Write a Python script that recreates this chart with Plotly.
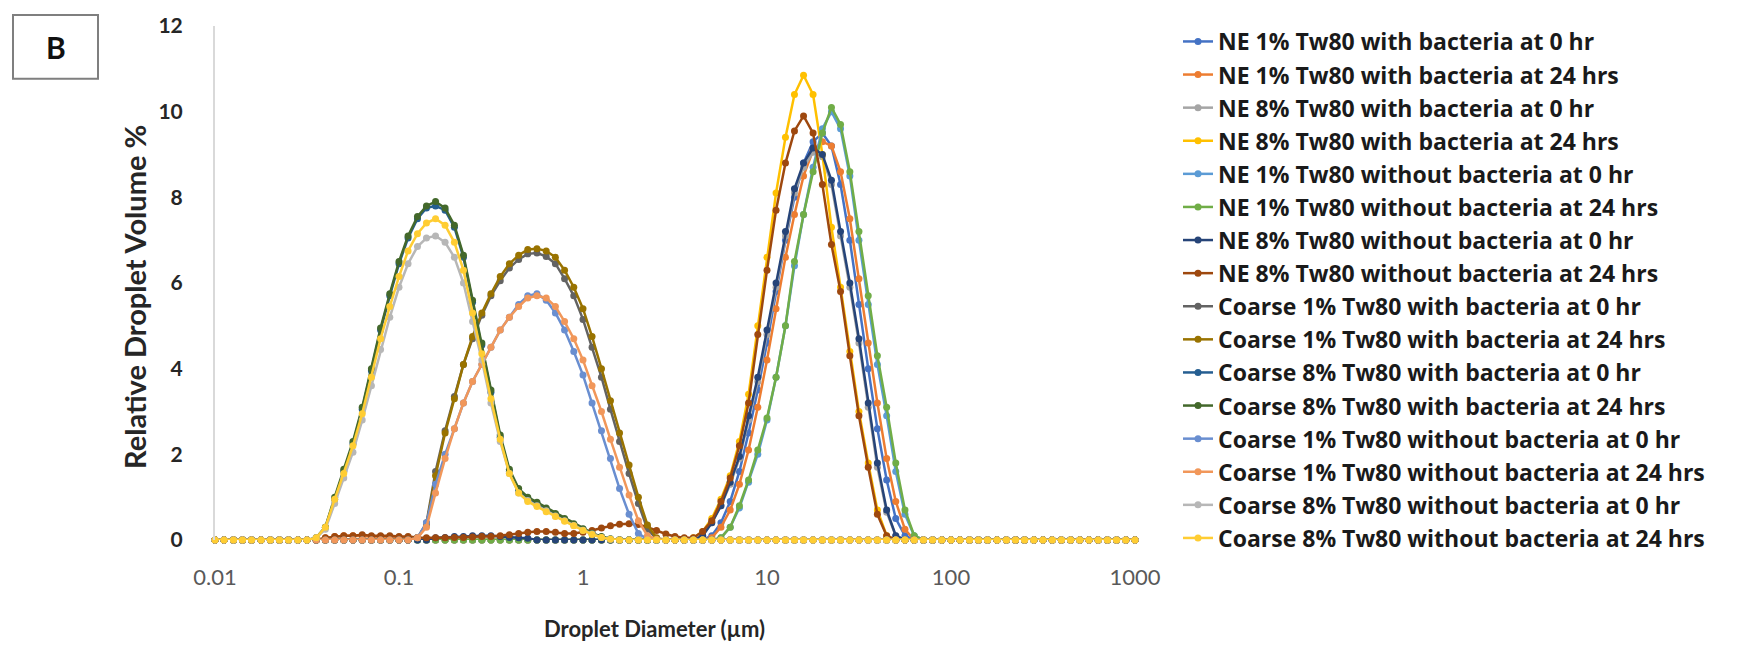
import plotly.graph_objects as go

# ---------------- data ----------------
# instrument size classes (µm): 20 per decade from 0.01 to 1000
class_mantissa = [1.00, 1.12, 1.26, 1.41, 1.58, 1.78, 2.00, 2.24, 2.51, 2.82,
                  3.16, 3.55, 3.98, 4.47, 5.01, 5.62, 6.31, 7.08, 7.94, 8.91]
class_decades = [0.01, 0.1, 1, 10, 100]
diameters = [round(m * d, 5) for d in class_decades for m in class_mantissa] + [1000.0]

series_names = [
    "NE 1% Tw80 with bacteria at 0 hr",
    "NE 1% Tw80 with bacteria at 24 hrs",
    "NE 8% Tw80 with bacteria at 0 hr",
    "NE 8% Tw80 with bacteria at 24 hrs",
    "NE 1% Tw80 without bacteria at 0 hr",
    "NE 1% Tw80 without bacteria at 24 hrs",
    "NE 8% Tw80 without bacteria at 0 hr",
    "NE 8% Tw80 without bacteria at 24 hrs",
    "Coarse 1% Tw80 with bacteria at 0 hr",
    "Coarse 1% Tw80 with bacteria at 24 hrs",
    "Coarse 8% Tw80 with bacteria at 0 hr",
    "Coarse 8% Tw80 with bacteria at 24 hrs",
    "Coarse 1% Tw80 without bacteria at 0 hr",
    "Coarse 1% Tw80 without bacteria at 24 hrs",
    "Coarse 8% Tw80 without bacteria at 0 hr",
    "Coarse 8% Tw80 without bacteria at 24 hrs",
]

series_colors = ["#4472C4", "#ED7D31", "#A5A5A5", "#FFC000", "#5B9BD5", "#70AD47",
                 "#264478", "#9E480E", "#636363", "#997300", "#255E91", "#43682B",
                 "#698ED0", "#F1975A", "#B7B7B7", "#FFCD33"]

# non-zero volume % readings: (index of first size class, values); all other classes are 0
ne1_bact_0 = [(54, [0.1, 0.4, 0.9, 1.6, 2.5, 3.5, 4.6, 5.8, 7.0, 8.0, 8.8, 9.3, 9.5, 9.2,
                    8.3, 7.0, 5.5, 4.0, 2.6, 1.4, 0.5, 0.1])]
ne1_bact_24 = [(12, [0.05, 0.08, 0.1, 0.1, 0.09, 0.08, 0.08, 0.07, 0.06, 0.05, 0.03]),
               (54, [0.05, 0.3, 0.7, 1.3, 2.1, 3.1, 4.2, 5.4, 6.6, 7.6, 8.5, 9.1, 9.3, 9.2,
                     8.6, 7.5, 6.1, 4.6, 3.2, 1.9, 0.9, 0.25])]
ne8_bact_0 = [(53, [0.1, 0.4, 0.8, 1.3, 1.9, 2.8, 3.7, 4.8, 5.9, 7.1, 8.1, 8.7, 9.05,
                    8.95, 8.3, 7.1, 5.9, 4.6, 3.1, 1.7, 0.65, 0.1])]
ne8_bact_24 = [(52, [0.05, 0.2, 0.5, 0.95, 1.5, 2.3, 3.4, 5.0, 6.6, 8.1, 9.4, 10.4, 10.85,
                     10.4, 9.0, 7.3, 5.9, 4.4, 3.0, 1.8, 0.7, 0.1])]
ne1_nobact_0 = [(55, [0.05, 0.3, 0.75, 1.35, 2.0, 2.8, 3.8, 5.0, 6.4, 7.6, 8.7, 9.6, 10.0,
                      9.6, 8.5, 7.0, 5.5, 4.1, 2.9, 1.6, 0.6, 0.1])]
ne1_nobact_24 = [(55, [0.05, 0.3, 0.8, 1.4, 2.1, 2.85, 3.8, 5.0, 6.5, 7.6, 8.6, 9.5, 10.1,
                       9.7, 8.6, 7.2, 5.7, 4.3, 3.1, 1.8, 0.7, 0.1])]
ne8_nobact_0 = [(24, [0.05, 0.06, 0.08, 0.08, 0.1, 0.1, 0.1, 0.08, 0.06, 0.05, 0.04]),
                (53, [0.1, 0.4, 0.8, 1.35, 1.95, 2.9, 3.8, 4.9, 6.0, 7.2, 8.2, 8.8, 9.15,
                      9.0, 8.4, 7.2, 6.0, 4.7, 3.2, 1.8, 0.7, 0.1])]
ne8_nobact_24 = [(12, [0.05, 0.08, 0.1, 0.1, 0.12, 0.1, 0.1, 0.1, 0.08, 0.08, 0.06, 0.05,
                       0.05, 0.05, 0.06, 0.06, 0.07, 0.08, 0.08, 0.1, 0.12, 0.15, 0.18,
                       0.2, 0.2, 0.18, 0.15, 0.15, 0.18, 0.22, 0.28, 0.33, 0.37, 0.38,
                       0.36, 0.3, 0.22, 0.14, 0.08, 0.05]),
                 (52, [0.05, 0.2, 0.45, 0.9, 1.45, 2.2, 3.2, 4.8, 6.3, 7.7, 8.8, 9.55, 9.9,
                       9.5, 8.3, 6.9, 5.8, 4.3, 2.9, 1.7, 0.6, 0.1])]
co1_bact_0 = [(22, [0.05, 0.4, 1.6, 2.55, 3.35, 4.1, 4.7, 5.25, 5.7, 6.05, 6.35, 6.55, 6.68,
                    6.7, 6.62, 6.45, 6.1, 5.7, 5.15, 4.5, 3.8, 3.05, 2.3, 1.55, 0.85, 0.25,
                    0.03])]
co1_bact_24 = [(22, [0.05, 0.35, 1.5, 2.5, 3.3, 4.1, 4.75, 5.3, 5.75, 6.15, 6.45, 6.65,
                     6.78, 6.8, 6.75, 6.6, 6.3, 5.9, 5.4, 4.75, 4.0, 3.25, 2.5, 1.75, 1.0,
                     0.35, 0.05])]
co8_bact_0 = [(11, [0.05, 0.3, 0.95, 1.6, 2.25, 3.05, 3.95, 4.9, 5.7, 6.45, 7.05, 7.5, 7.75,
                    7.8, 7.7, 7.3, 6.6, 5.55, 4.55, 3.45, 2.4, 1.6, 1.15, 0.97, 0.85, 0.72,
                    0.6, 0.48, 0.36, 0.25, 0.15, 0.07, 0.02])]
co8_bact_24 = [(11, [0.05, 0.3, 1.0, 1.65, 2.3, 3.1, 4.0, 4.95, 5.75, 6.5, 7.1, 7.55, 7.8,
                     7.9, 7.75, 7.35, 6.65, 5.6, 4.6, 3.5, 2.45, 1.65, 1.2, 1.0, 0.88, 0.75,
                     0.62, 0.5, 0.38, 0.26, 0.16, 0.08, 0.03])]
co1_nobact_0 = [(22, [0.05, 0.4, 1.3, 2.0, 2.6, 3.2, 3.7, 4.1, 4.5, 4.9, 5.2, 5.5, 5.7, 5.75,
                      5.6, 5.3, 4.9, 4.4, 3.85, 3.2, 2.55, 1.9, 1.2, 0.6, 0.15, 0.02])]
co1_nobact_24 = [(22, [0.05, 0.3, 1.1, 1.9, 2.6, 3.2, 3.7, 4.1, 4.5, 4.9, 5.2, 5.45, 5.65,
                       5.7, 5.65, 5.45, 5.1, 4.7, 4.2, 3.6, 3.0, 2.35, 1.7, 1.05, 0.45, 0.1,
                       0.02])]
co8_nobact_0 = [(11, [0.05, 0.25, 0.85, 1.45, 2.05, 2.8, 3.6, 4.45, 5.2, 5.9, 6.45, 6.85,
                      7.05, 7.1, 6.95, 6.6, 6.0, 5.1, 4.2, 3.2, 2.3, 1.55, 1.1, 0.92, 0.8,
                      0.68, 0.56, 0.45, 0.34, 0.23, 0.14, 0.06, 0.02])]
co8_nobact_24 = [(11, [0.05, 0.3, 0.95, 1.55, 2.2, 2.95, 3.8, 4.7, 5.45, 6.15, 6.75, 7.15,
                       7.4, 7.5, 7.35, 6.95, 6.3, 5.3, 4.35, 3.3, 2.35, 1.55, 1.1, 0.9,
                       0.78, 0.66, 0.55, 0.44, 0.33, 0.22, 0.13, 0.06, 0.02])]

series_readings = [ne1_bact_0, ne1_bact_24, ne8_bact_0, ne8_bact_24,
                   ne1_nobact_0, ne1_nobact_24, ne8_nobact_0, ne8_nobact_24,
                   co1_bact_0, co1_bact_24, co8_bact_0, co8_bact_24,
                   co1_nobact_0, co1_nobact_24, co8_nobact_0, co8_nobact_24]

x_tick_vals = [0.01, 0.1, 1, 10, 100, 1000]
x_tick_text = ["0.01", "0.1", "1", "10", "100", "1000"]
y_tick_vals = [0, 2, 4, 6, 8, 10, 12]


def full_series(readings):
    y = [0.0] * len(diameters)
    for start, vals in readings:
        for k, v in enumerate(vals):
            y[start + k] = v
    return y


# ---------------- figure ----------------
W, H = 1743, 654
PL, PR, PT, PB = 215, 1135, 24, 540   # plot area in pixels

fig = go.Figure()
for k, (name, color, readings) in enumerate(zip(series_names, series_colors, series_readings)):
    fig.add_trace(go.Scatter(
        x=diameters, y=full_series(readings), name=name,
        mode="lines+markers",
        line=dict(color=color, width=2.5),
        marker=dict(color=color, size=7, symbol="circle"),
        legendgroup=f"g{k}",
        cliponaxis=False,
    ))

FONT = "Lato"
fig.update_layout(
    width=W, height=H,
    margin=dict(l=PL, r=W - PR, t=PT, b=H - PB),
    paper_bgcolor="white", plot_bgcolor="white",
    font=dict(family=FONT, color="#262626"),
    showlegend=True,
    legend=dict(
        xref="container", yref="container",
        x=1178 / W, y=1 - 20 / H, xanchor="left", yanchor="top",
        font=dict(family="Open Sans", size=23, color="#1a1a1a", weight="bold"),
        bgcolor="rgba(0,0,0,0)", borderwidth=0,
        tracegroupgap=0.2, itemwidth=30, maxheight=650,
    ),
    xaxis=dict(
        type="log", range=[-2, 3],
        tickvals=x_tick_vals, ticktext=x_tick_text,
        tickfont=dict(family=FONT, size=22, color="#595959"),
        showgrid=False, zeroline=False, showline=False, ticks="",
        ticklabelstandoff=22,
    ),
    yaxis=dict(
        range=[0, 12], tickvals=y_tick_vals,
        tickfont=dict(family=FONT, size=21, color="#262626", weight="bold"),
        showgrid=False, zeroline=False,
        showline=True, linecolor="#d9d9d9", linewidth=2,
        ticks="", ticklabelstandoff=26,
    ),
)


def px_to_paper_x(px):
    return (px - PL) / (PR - PL)


def px_to_paper_y(py):
    return (PB - py) / (PB - PT)


fig.add_annotation(
    text="<b>Droplet Diameter (µm)</b>", xref="paper", yref="paper",
    x=px_to_paper_x(654), y=px_to_paper_y(629), xanchor="center", yanchor="middle",
    showarrow=False, font=dict(family=FONT, size=22, color="#262626"),
)
fig.add_annotation(
    text="<b>Relative Droplet Volume %</b>", xref="paper", yref="paper",
    x=px_to_paper_x(135), y=px_to_paper_y(296), xanchor="center", yanchor="middle",
    textangle=-90, showarrow=False, font=dict(family=FONT, size=29, color="#262626"),
)
fig.add_shape(
    type="rect", xref="paper", yref="paper",
    x0=px_to_paper_x(13), x1=px_to_paper_x(98), y0=px_to_paper_y(77), y1=px_to_paper_y(13),
    line=dict(color="#7f7f7f", width=2), fillcolor="white",
)
fig.add_annotation(
    text="<b>B</b>", xref="paper", yref="paper",
    x=px_to_paper_x(56), y=px_to_paper_y(45), xanchor="center", yanchor="middle",
    showarrow=False, font=dict(family=FONT, size=30, color="#111111"),
)

fig.write_html("out.html")
